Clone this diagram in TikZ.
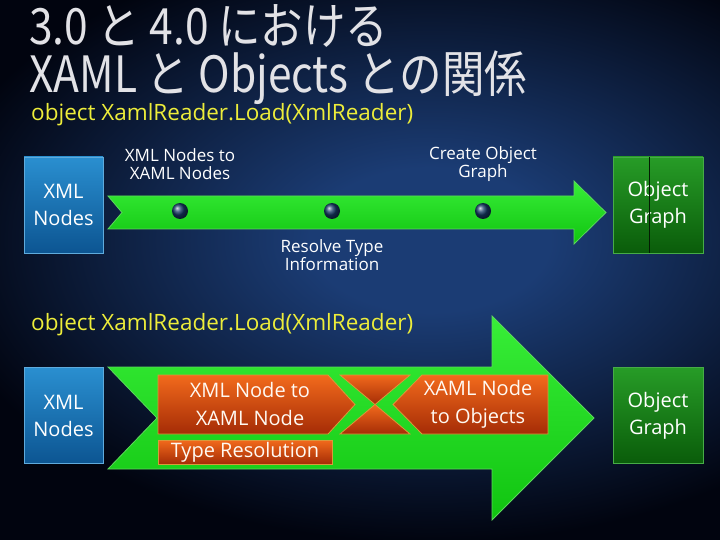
\documentclass[tikz,border=0pt]{standalone}
\usepackage{graphicx}
\usepackage{fontspec}
\setmainfont{Open Sans}
\newfontfamily\jpfont{Noto Sans CJK JP}
\usetikzlibrary{positioning,calc}
\definecolor{bgdark}{HTML}{01040F}
\definecolor{bgmid}{HTML}{1B3C74}
\definecolor{xmltop}{HTML}{2A8FD0}
\definecolor{xmlbot}{HTML}{0C5592}
\definecolor{objtop}{HTML}{279C27}
\definecolor{objbot}{HTML}{0A5C0A}
\definecolor{arrtop}{HTML}{38EE38}
\definecolor{arrbot}{HTML}{10C410}
\definecolor{arrline}{HTML}{5CD85C}
\definecolor{orgtop}{HTML}{F26A1C}
\definecolor{orgbot}{HTML}{A52C06}
\definecolor{orgline}{HTML}{D89A3A}
\definecolor{sigyel}{HTML}{EDED3A}
\definecolor{dotblue}{HTML}{163A66}
\definecolor{ttlgray}{HTML}{E2E2E6}
\pgfdeclareradialshading{bgglow}{\pgfpoint{0bp}{0bp}}{color(0bp)=(bgmid);color(5bp)=(bgmid);color(21bp)=(bgdark);color(50bp)=(bgdark)}
\tikzset{
  every node/.style={text=white},
  srcbox/.style={draw=xmltop!75!white, line width=0.6pt, top color=xmltop, bottom color=xmlbot,
                 minimum width=79pt, minimum height=96pt, align=center, inner sep=0pt,
                 font=\fontsize{20}{27}\selectfont},
  outbox/.style={srcbox, draw=objtop!85!white, top color=objtop, bottom color=objbot, minimum width=90pt},
  flow/.style={draw=arrline, line width=0.8pt, top color=arrtop, bottom color=arrbot},
  proc/.style={draw=orgline, line width=0.8pt, top color=orgtop, bottom color=orgbot},
  procbox/.style={proc, inner sep=0pt, font=\fontsize{20}{28}\selectfont, text=white!95!orange},
  proctxt/.style={align=center, inner sep=0pt, font=\fontsize{20}{28}\selectfont, text=white!95!orange},
  lab/.style={align=center, inner sep=0pt, font=\fontsize{17}{18.5}\selectfont},
  dot/.style={circle, minimum size=16pt, inner sep=0pt, ball color=dotblue},
  sig/.style={anchor=west, inner sep=0pt, text=sigyel, font=\fontsize{22.5}{24}\selectfont},
  ttl/.style={anchor=base west, inner sep=0pt, text=ttlgray, font=\jpfont\fontsize{50}{50}\selectfont},
  divline/.style={draw=black!70!objbot, line width=0.5pt},
}
\begin{document}
\begin{tikzpicture}[x=1pt,y=-1pt]
\useasboundingbox (0,0) rectangle (720,540);

% ---------------- background ----------------
\begin{scope}
  \clip (0,0) rectangle (720,540);
  \fill[bgdark] (0,0) rectangle (720,540);
  \path[shading=bgglow] (-170,-120) rectangle (1030,600);
\end{scope}

% ---------------- title ----------------
\node[ttl] (t1) at (29,45) {\scalebox{0.85}[1]{3.0 と 4.0 における}};
\node[ttl] (t2) at (29,93) {\scalebox{0.85}[1]{XAML と Objects との関係}};

% ---------------- 3.0: single pipeline ----------------
\node[sig] (sigA) at (31,115) {object XamlReader.Load(XmlReader)};

\node[srcbox] (xmlA) at (63.5,205) {XML\\Nodes};
\node[outbox] (objA) at (658,205) {Object\\Graph};
\draw[divline] ([xshift=-9pt]objA.north) -- ([xshift=-9pt]objA.south);

\draw[flow] (108,196) -- (574,196) -- (574,181) -- (606,212.5) -- (574,244)
  -- (574,229) -- (108,229) -- (122,212.5) -- cycle;

\node[dot] (dA) at (180,211) {};
\node[dot] (dB) at (332,211) {};
\node[dot] (dC) at (483,211) {};

\node[lab] (lA) at (180,164) {XML Nodes to\\XAML Nodes};
\node[lab] (lC) at (483,164) {Create Object\\Graph};
\node[lab] (lB) at (332,255) {Resolve Type\\Information};

% ---------------- 4.0: split readers ----------------
\node[sig] (sigB) at (31,325) {object XamlReader.Load(XmlReader)};

\node[srcbox] (xmlB) at (63.5,415.5) {XML\\Nodes};
\node[outbox] (objB) at (658,415.5) {Object\\Graph};

\draw[flow] (108,367) -- (492,367) -- (492,316) -- (594,418) -- (492,520)
  -- (492,469) -- (108,469) -- (157,418) -- cycle;

\draw[proc] (158,375) -- (328,375) -- (355,404.5) -- (328,434) -- (158,434) -- cycle;
\draw[proc] (340,375) -- (410,375) -- (375,404.5) -- cycle;
\draw[proc] (340,434) -- (410,434) -- (375,404.5) -- cycle;
\draw[proc] (422,375) -- (548,375) -- (548,434) -- (422,434) -- (393,404.5) -- cycle;

\node[proctxt] (xn) at (250,404) {XML Node to\\XAML Node};
\node[proctxt] (xo) at (478,404) {XAML Node\\to Objects};
\node[procbox, minimum width=174pt, minimum height=24pt] (tr) at (245,452) {Type Resolution};

\end{tikzpicture}
\end{document}
